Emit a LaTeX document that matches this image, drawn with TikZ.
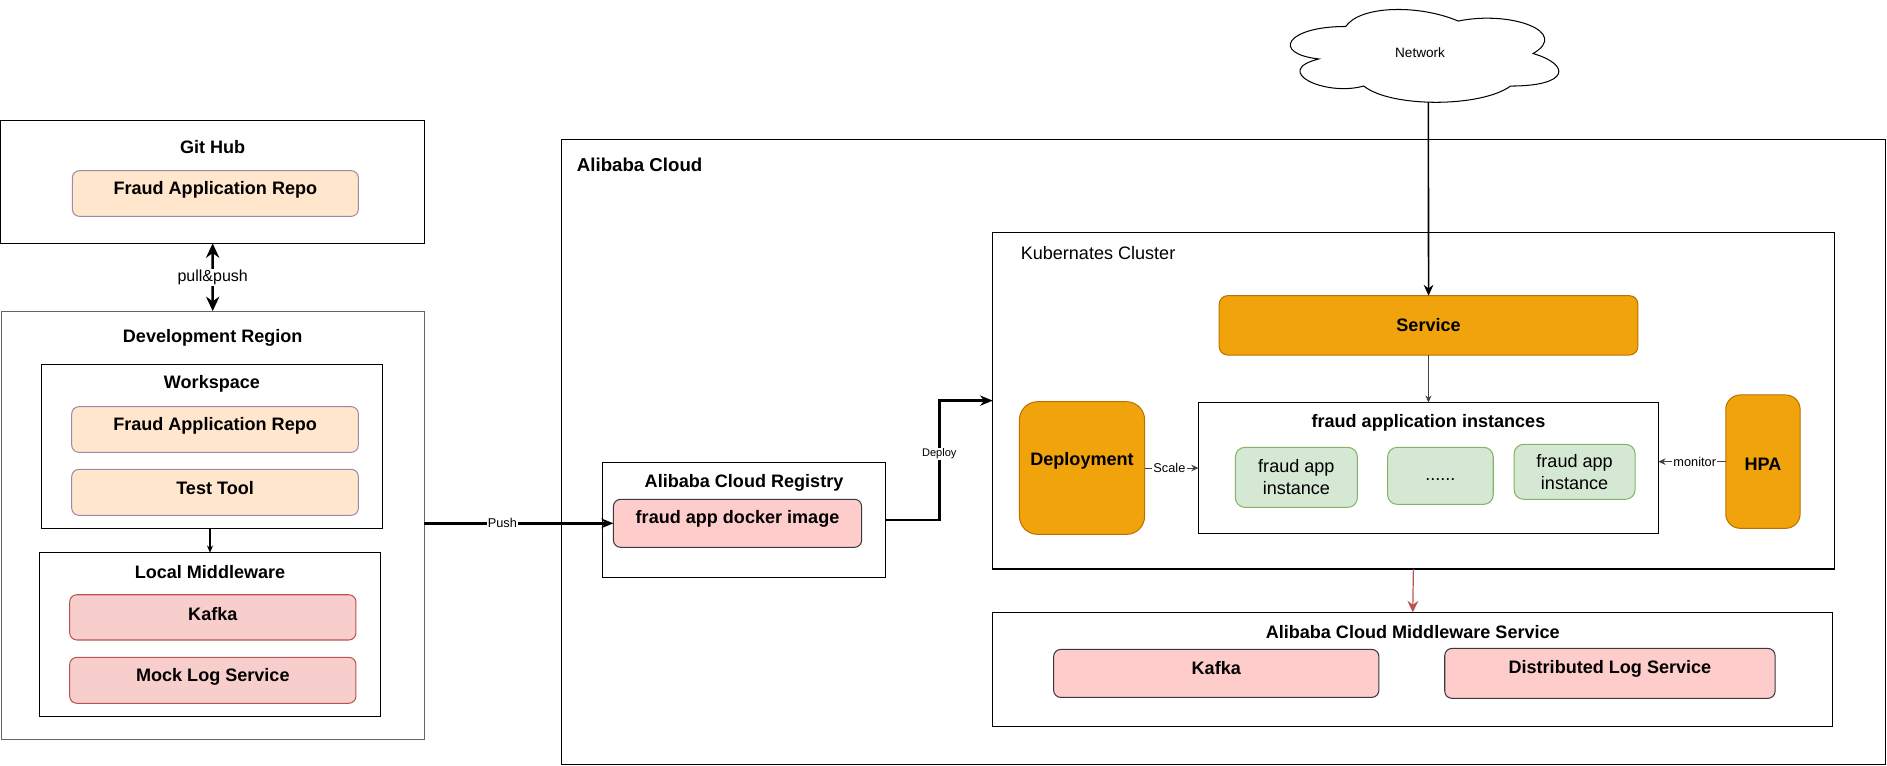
\documentclass[tikz,border=0pt]{standalone}
\usepackage{fontspec}
\setmainfont{Liberation Sans}
\usetikzlibrary{arrows.meta}
\definecolor{peachF}{HTML}{FFE6CC}
\definecolor{peachD}{HTML}{9E8AA6}
\definecolor{redF}{HTML}{F8CECC}
\definecolor{redD}{HTML}{B85450}
\definecolor{pinkF}{HTML}{FFCCCC}
\definecolor{pinkD}{HTML}{36393D}
\definecolor{orF}{HTML}{F0A30A}
\definecolor{orD}{HTML}{BD7000}
\definecolor{grF}{HTML}{D5E8D4}
\definecolor{grD}{HTML}{82B366}
\definecolor{grayD}{HTML}{666666}
\definecolor{lineG}{HTML}{444444}
\begin{document}
\begin{tikzpicture}[x=1pt,y=-1pt,
  cont/.style={draw=black, line width=0.85pt, inner sep=0pt, outer sep=0pt},
  rb/.style={cont, rounded corners=6pt},
  peach/.style={rb, fill=peachF, draw=peachD},
  redbox/.style={rb, fill=redF, draw=redD},
  pinkbox/.style={rb, fill=pinkF, draw=pinkD},
  orbox/.style={cont, fill=orF, draw=orD},
  grbox/.style={rb, fill=grF, draw=grD},
  ttl/.style={font=\fontsize{15}{18}\selectfont\bfseries},
  rtxt/.style={font=\fontsize{15}{18}\selectfont},
  tl/.style 2 args={label={[ttl, anchor=center, yshift=-#1pt-1.5pt]north:#2}},
  lbl/.style={fill=white, inner sep=1pt, font=\fontsize{10.6}{12}\selectfont},
  thk/.style={line width=2pt},
  tarr/.style={line width=0.85pt, -{Stealth[length=6pt,width=5pt]}},
]
\useasboundingbox (0,0) rectangle (1568,636.5);

% ---------- Left side ----------
\node[cont, minimum width=351.8pt, minimum height=101.9pt, tl={20.2}{Git Hub}] (gh) at (176.7,151.25) {};
\node[peach, minimum width=237.7pt, minimum height=38pt, tl={14.7}{Fraud Application Repo}] (ghrepo) at (178.95,160.8) {};

\node[cont, draw=grayD, minimum width=351.5pt, minimum height=355.9pt, tl={20.7}{Development Region}] (dev) at (176.75,436.45) {};
\node[cont, minimum width=283.1pt, minimum height=136.2pt, tl={14.4}{Workspace}] (ws) at (176.15,370.9) {};
\node[peach, minimum width=238.2pt, minimum height=38pt, tl={14.4}{Fraud Application Repo}] (wsrepo) at (178.7,356.9) {};
\node[peach, minimum width=238.2pt, minimum height=38.2pt, tl={14.4}{Test Tool}] (test) at (178.7,409.1) {};
\node[cont, minimum width=282.6pt, minimum height=135.7pt, tl={14.4}{Local Middleware}] (lm) at (174.5,527.15) {};
\node[redbox, minimum width=237.9pt, minimum height=37.6pt, tl={14.4}{Kafka}] (kafka1) at (176.85,513) {};
\node[redbox, minimum width=237.9pt, minimum height=38.2pt, tl={14.7}{Mock Log Service}] (mock) at (176.85,565.3) {};

% ---------- Alibaba Cloud ----------
\node[cont, minimum width=1100.1pt, minimum height=519pt,
  label={[ttl, font=\fontsize{15.5}{18}\selectfont\bfseries, anchor=west, inner sep=0pt, xshift=12.5pt, yshift=-20.4pt]north west:Alibaba Cloud}] (ali) at (1016.75,375.8) {};

\node[cont, minimum width=235.5pt, minimum height=95pt, tl={14.9}{Alibaba Cloud Registry}] (reg) at (618.25,432) {};
\node[pinkbox, minimum width=206.3pt, minimum height=39.9pt, tl={15}{fraud app docker image}] (docker) at (612.85,434.85) {};

\node[cont, minimum width=699.1pt, minimum height=279.8pt,
  label={[rtxt, anchor=west, inner sep=0pt, xshift=23.1pt, yshift=-17.2pt]north west:Kubernates Cluster}] (k8s) at (1174.45,332.9) {};
\node[orbox, rounded corners=7pt, minimum width=347.9pt, minimum height=49.3pt, ttl, text height=11pt, text depth=1pt] (svc) at (1187.05,270.35) {Service};
\node[cont, minimum width=382.1pt, minimum height=108.6pt, tl={15}{fraud application instances}] (inst) at (1186.95,388.9) {};
\node[orbox, rounded corners=15pt, minimum width=104pt, minimum height=110.2pt, tl={47.4}{Deployment}] (dep) at (899.1,388.9) {};
\node[grbox, rounded corners=8pt, minimum width=101.4pt, minimum height=49.9pt, rtxt, align=center] (i1) at (1077.2,396.65) {fraud app\\instance};
\node[grbox, rounded corners=8pt, minimum width=87.8pt, minimum height=47.4pt, rtxt, text height=11pt, text depth=3pt] (dots) at (1196.9,395.4) {......};
\node[grbox, rounded corners=8pt, minimum width=100.6pt, minimum height=45.7pt, rtxt, align=center] (i2) at (1308.4,392.05) {fraud app\\instance};
\node[orbox, rounded corners=12pt, minimum width=61.8pt, minimum height=110.8pt, tl={55.8}{HPA}] (hpa) at (1464.9,383.6) {};

\node[cont, minimum width=697.8pt, minimum height=95.1pt, tl={15.2}{Alibaba Cloud Middleware Service}] (ms) at (1173.9,556.35) {};
\node[pinkbox, minimum width=270.3pt, minimum height=39.9pt, tl={14.4}{Kafka}] (kafka2) at (1010.65,559.55) {};
\node[pinkbox, minimum width=274.5pt, minimum height=41.5pt, tl={15.2}{Distributed Log Service}] (dls) at (1337.75,559.55) {};

% ---------- Network cloud ----------
\draw[line width=0.85pt, fill=white] (1118.25,22)
  .. controls (1068.45,22) and (1056,44.5) .. (1095.84,49)
  .. controls (1056,58.9) and (1100.82,80.5) .. (1133.19,71.5)
  .. controls (1155.6,89.5) and (1230.3,89.5) .. (1255.2,71.5)
  .. controls (1305,71.5) and (1305,53.5) .. (1273.875,44.5)
  .. controls (1305,26.5) and (1255.2,8.5) .. (1211.625,17.5)
  .. controls (1180.5,4) and (1130.7,4) .. (1118.25,22) -- cycle;
\node[font=\fontsize{11.3}{13}\selectfont] (net) at (1180,44) {Network};
\coordinate (netb) at (1186.9,84.8);

% ---------- Connectors ----------
\draw[thk, {Stealth[length=12pt,width=11pt]}-{Stealth[length=12pt,width=11pt]}] (gh.south) -- node[fill=white, inner sep=1pt, font=\fontsize{13.3}{15}\selectfont]{pull\&push} (dev.north);
\draw[tarr] (ws.south -| lm.north) -- (lm.north);
\draw[thk, -{Stealth[length=10pt,width=8pt]}] (dev.east |- docker.west) -- node[lbl, pos=0.413]{Push} (docker.west);
\draw[thk, -{Stealth[length=10.5pt,width=8.5pt]}] (reg.east) -- ++(44.5,0) coordinate (d1)
  -- node[fill=white, inner sep=1pt, font=\fontsize{9.2}{11}\selectfont, pos=0.553]{Deploy} (d1 |- k8s.west) -- (k8s.west);
\draw[line width=1.3pt, -{Stealth[length=9pt,width=8pt]}] (netb) -- (svc.north);
\draw[line width=0.7pt, draw=lineG, -{Stealth[length=6pt,width=5pt]}] (svc.south) -- (inst.north);
\draw[line width=0.85pt, draw=lineG, -{Stealth[length=6pt,width=5.5pt]}] (dep.east) -- node[lbl, pos=0.46]{Scale} (inst.west);
\draw[line width=0.85pt, draw=lineG, -{Stealth[length=6pt,width=5.5pt]}] (hpa.west) -- node[lbl, pos=0.46]{monitor} (hpa.west -| inst.east);
\draw[line width=1pt, draw=redD, -{Stealth[length=9.5pt,width=9pt]}] (k8s.south) -- (ms.north);
\end{tikzpicture}
\end{document}
